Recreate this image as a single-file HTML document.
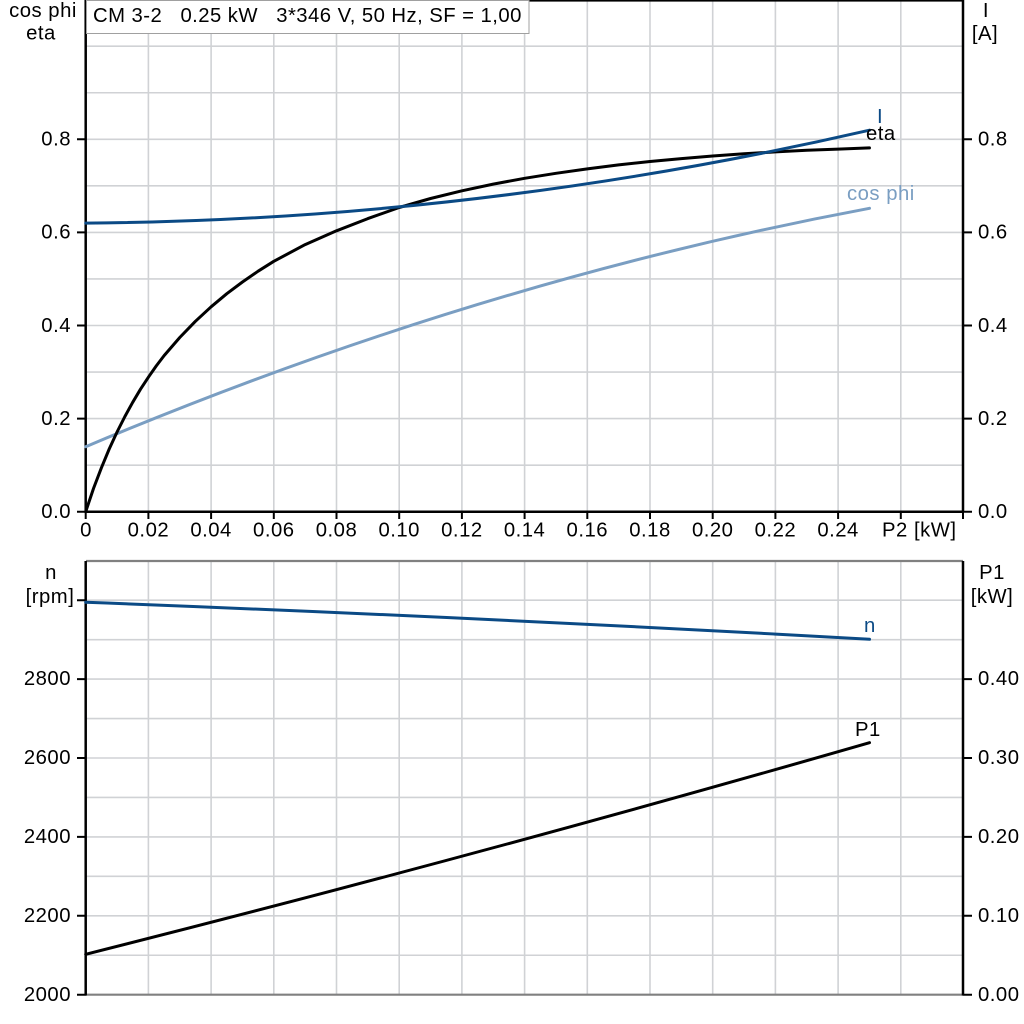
<!DOCTYPE html>
<html><head><meta charset="utf-8"><style>
html,body{margin:0;padding:0;background:#fff;}
svg{display:block;}
text{font-family:"Liberation Sans",Arial,sans-serif;font-size:20.3px;letter-spacing:0.5px;fill:#000;}
.g{stroke:#d0d2d5;stroke-width:1.6;fill:none;}
.ax{stroke:#000;stroke-width:2.5;fill:none;}
.tk{stroke:#000;stroke-width:2;}
</style></head><body>
<svg width="1024" height="1024" viewBox="0 0 1024 1024" xmlns="http://www.w3.org/2000/svg">
<rect width="1024" height="1024" fill="#fff"/>
<!-- TOP CHART GRID -->
<g class="g">
<path d="M148.4 0V512M211.1 0V512M273.8 0V512M336.5 0V512M399.2 0V512M461.9 0V512M524.6 0V512M587.3 0V512M650 0V512M712.7 0V512M775.4 0V512M838.1 0V512M900.8 0V512"/>
<path d="M86 465.15H963M86 418.6H963M86 372.05H963M86 325.5H963M86 278.95H963M86 232.4H963M86 185.85H963M86 139.3H963M86 92.75H963M86 46.2H963"/>
</g>
<!-- BOTTOM CHART GRID -->
<g class="g">
<path d="M148.4 561V995M211.1 561V995M273.8 561V995M336.5 561V995M399.2 561V995M461.9 561V995M524.6 561V995M587.3 561V995M650 561V995M712.7 561V995M775.4 561V995M838.1 561V995M900.8 561V995"/>
<path d="M86 955.25H963M86 915.8H963M86 876.35H963M86 836.9H963M86 797.45H963M86 758H963M86 718.55H963M86 679.1H963M86 639.65H963M86 600.2H963"/>
</g>
<!-- TOP AXES -->
<rect x="86" y="0" width="877" height="1.6" fill="#000"/>
<path class="ax" d="M85.7 0V512M963 0V512M84.5 511.7H964"/>
<g class="tk">
<path d="M77 511.7H86M77 418.6H86M77 325.5H86M77 232.4H86M77 139.3H86"/>
<path d="M963 511.7H972M963 418.6H972M963 325.5H972M963 232.4H972M963 139.3H972"/>
<path d="M85.7 512V519M148.4 512V519M211.1 512V519M273.8 512V519M336.5 512V519M399.2 512V519M461.9 512V519M524.6 512V519M587.3 512V519M650 512V519M712.7 512V519M775.4 512V519M838.1 512V519M900.8 512V519M963 512V519"/>
</g>
<!-- BOTTOM AXES -->
<path d="M86 561H963M86 994.7H963" stroke="#808080" stroke-width="2.2" fill="none"/>
<path class="ax" d="M85.7 561V995.5M963 561V995.5"/>
<g class="tk">
<path d="M77 994.7H86M77 915.8H86M77 836.9H86M77 758H86M77 679.1H86M77 600.2H86"/>
<path d="M963 994.7H972M963 915.8H972M963 836.9H972M963 758H972M963 679.1H972"/>
</g>
<!-- TOP CURVES -->
<path d="M85.7 446.7 Q477.6 281.5 869.5 208.3" stroke="#7a9ec2" stroke-width="3" fill="none" stroke-linecap="round"/>
<polyline points="85.7,511.7 93.5,488.5 101.4,467.8 109.2,449 117.05,432 124.9,416.5 132.7,402.3 140.5,389.2 148.4,377.2 156.2,366 164.1,355.6 179.75,337.5 195.4,321.3 211.1,306.8 226.8,293.7 242.45,282 258.1,271.2 273.8,261.3 305.15,244.6 336.5,230.8 367.85,218.6 399.2,207.5 430.55,198.5 461.9,190.8 493.25,184.1 524.6,178.3 555.95,173.3 587.3,168.9 618.65,164.9 650,161.5 681.35,158.6 712.7,156 744.05,153.8 775.4,151.9 806.75,150.3 838.1,149.1 869.45,147.9" stroke="#000" stroke-width="3" fill="none" stroke-linejoin="round" stroke-linecap="round"/>
<path d="M85.7 223.1 Q477.6 220.2 869.5 130.2" stroke="#0b4a85" stroke-width="3" fill="none" stroke-linecap="round"/>
<!-- BOTTOM CURVES -->
<path d="M85.7 602.3 Q477.6 617.2 869.5 639.3" stroke="#0b4a85" stroke-width="3" fill="none" stroke-linecap="round"/>
<path d="M85.7 954.3 Q477.6 855.5 869.5 742.7" stroke="#000" stroke-width="3" fill="none" stroke-linecap="round"/>
<!-- TITLE BOX -->
<rect x="86.5" y="0.5" width="442.5" height="33" fill="#fff" stroke="#a0a0a0" stroke-width="1"/>
<text x="93" y="22" style="white-space:pre;letter-spacing:0.45px" xml:space="preserve">CM 3-2   0.25 kW   3*346 V, 50 Hz, SF = 1,00</text>
<!-- AXIS HEADERS -->
<text x="43" y="17" text-anchor="middle">cos phi</text>
<text x="41" y="39.5" text-anchor="middle">eta</text>
<text x="986" y="17" text-anchor="middle">I</text>
<text x="985" y="40" text-anchor="middle">[A]</text>
<text x="51" y="579" text-anchor="middle">n</text>
<text x="50" y="603" text-anchor="middle">[rpm]</text>
<text x="992" y="579" text-anchor="middle">P1</text>
<text x="992" y="603" text-anchor="middle">[kW]</text>
<!-- TICK LABELS -->
<g text-anchor="end">
<text x="71" y="518">0.0</text>
<text x="71" y="425">0.2</text>
<text x="71" y="332">0.4</text>
<text x="71" y="238.5">0.6</text>
<text x="71" y="145.5">0.8</text>
<text x="71" y="1001">2000</text>
<text x="71" y="922">2200</text>
<text x="71" y="843">2400</text>
<text x="71" y="764">2600</text>
<text x="71" y="685">2800</text>
</g>
<g>
<text x="978" y="518">0.0</text>
<text x="978" y="425">0.2</text>
<text x="978" y="332">0.4</text>
<text x="978" y="238.5">0.6</text>
<text x="978" y="145.5">0.8</text>
<text x="978" y="1001">0.00</text>
<text x="978" y="922">0.10</text>
<text x="978" y="843">0.20</text>
<text x="978" y="764">0.30</text>
<text x="978" y="685">0.40</text>
</g>
<g text-anchor="middle">
<text x="86" y="536.5">0</text>
<text x="148.4" y="536.5">0.02</text>
<text x="211.1" y="536.5">0.04</text>
<text x="273.8" y="536.5">0.06</text>
<text x="336.5" y="536.5">0.08</text>
<text x="399.2" y="536.5">0.10</text>
<text x="461.9" y="536.5">0.12</text>
<text x="524.6" y="536.5">0.14</text>
<text x="587.3" y="536.5">0.16</text>
<text x="650" y="536.5">0.18</text>
<text x="712.7" y="536.5">0.20</text>
<text x="775.4" y="536.5">0.22</text>
<text x="838.1" y="536.5">0.24</text>
</g>
<text x="882" y="536.5">P2 [kW]</text>
<!-- CURVE LABELS -->
<text x="877" y="123" style="fill:#0b4a85">I</text>
<text x="866" y="140">eta</text>
<text x="847" y="200" style="fill:#7a9ec2">cos phi</text>
<text x="864" y="632" style="fill:#0b4a85">n</text>
<text x="855" y="736">P1</text>
</svg>
</body></html>
